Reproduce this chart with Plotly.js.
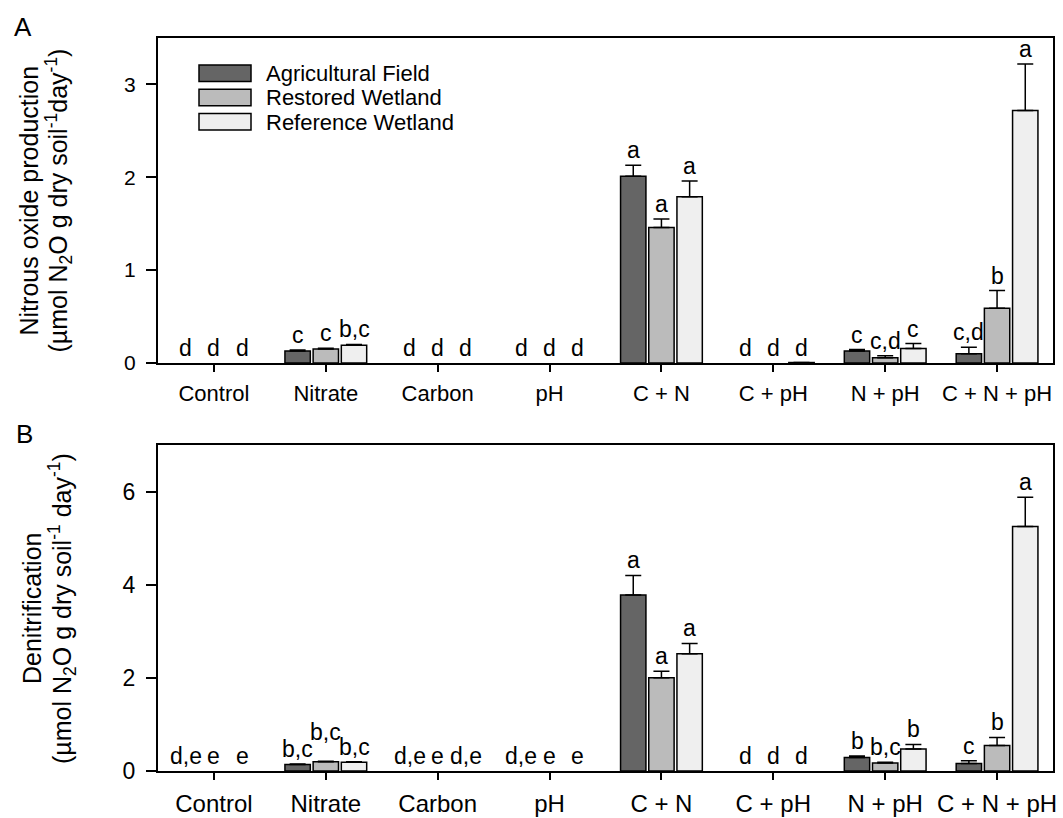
<!DOCTYPE html>
<html><head><meta charset="utf-8">
<script src="https://cdn.plot.ly/plotly-3.0.1.min.js"></script>
<style>html,body{margin:0;padding:0;background:#fff}</style>
</head><body><div id="chart" style="width:1063px;height:818px"></div>
<script>
// ---------- DATA ----------
const categories = ['Control', 'Nitrate', 'Carbon', 'pH', 'C + N', 'C + pH', 'N + pH', 'C + N + pH'];
const seriesNames = ['Agricultural Field', 'Restored Wetland', 'Reference Wetland'];

// Panel A: nitrous oxide production
const n2oAgri    = [0, 0.13, 0, 0, 2.01, 0, 0.13, 0.10];
const n2oAgriErr = [0, 0.01, 0, 0, 0.12, 0, 0.015, 0.07];
const n2oRest    = [0, 0.15, 0, 0, 1.46, 0, 0.057, 0.59];
const n2oRestErr = [0, 0.01, 0, 0, 0.09, 0, 0.02, 0.19];
const n2oRef     = [0, 0.19, 0, 0, 1.79, 0.005, 0.155, 2.72];
const n2oRefErr  = [0, 0.01, 0, 0, 0.17, 0, 0.055, 0.50];
const n2oAgriLetters = ['d', 'c', 'd', 'd', 'a', 'd', 'c', 'c,d'];
const n2oRestLetters = ['d', 'c', 'd', 'd', 'a', 'd', 'c,d', 'b'];
const n2oRefLetters  = ['d', 'b,c', 'd', 'd', 'a', 'd', 'c', 'a'];

// Panel B: denitrification
const denAgri    = [0, 0.14, 0, 0, 3.78, 0, 0.29, 0.16];
const denAgriErr = [0, 0.01, 0, 0, 0.42, 0, 0.03, 0.06];
const denRest    = [0, 0.20, 0, 0, 2.00, 0, 0.17, 0.55];
const denRestErr = [0, 0.01, 0, 0, 0.14, 0, 0.02, 0.17];
const denRef     = [0, 0.19, 0, 0, 2.52, 0, 0.47, 5.25];
const denRefErr  = [0, 0.01, 0, 0, 0.22, 0, 0.10, 0.63];
const denAgriLetters = ['d,e', 'b,c', 'd,e', 'd,e', 'a', 'd', 'b', 'c'];
const denRestLetters = ['e', 'b,c', 'e', 'e', 'a', 'd', 'b,c', 'b'];
const denRefLetters  = ['e', 'b,c', 'd,e', 'e', 'a', 'd', 'b', 'a'];

// ---------- STYLE / LAYOUT ----------
const W = 1063, H = 818;
const FONT = 'Liberation Sans, Arial, sans-serif';
const colors = ['#656565', '#bbbbbb', '#efefef'];
const BARGAP = 0.244, BARGROUPGAP = 0.1;
const px = x => x / W;           // pixel -> paper x
const py = y => 1 - y / H;       // pixel -> paper y

const panels = [
  {xa: 'x', ya: 'y', vals: [n2oAgri, n2oRest, n2oRef], errs: [n2oAgriErr, n2oRestErr, n2oRefErr],
   letters: [n2oAgriLetters, n2oRestLetters, n2oRefLetters], letterSize: 23},
  {xa: 'x2', ya: 'y2', vals: [denAgri, denRest, denRef], errs: [denAgriErr, denRestErr, denRefErr],
   letters: [denAgriLetters, denRestLetters, denRefLetters], letterSize: 23}
];

const traces = [];
const annotations = [];
const slot = (1 - BARGAP) / 3;
panels.forEach((p, pi) => {
  p.vals.forEach((v, si) => {
    // zero values: no bar is drawn in the original figure
    const shown = v.map(d => d === 0 ? null : d);
    traces.push({
      type: 'bar', x: categories, y: shown, name: seriesNames[si],
      xaxis: p.xa, yaxis: p.ya, showlegend: false,
      marker: {color: colors[si], line: {color: '#000', width: 1.5}},
      error_y: {type: 'data', array: p.errs[si], arrayminus: v.map(() => 0), symmetric: false,
                color: '#000', thickness: 1.5, width: 8},
      hoverinfo: 'skip'
    });
    p.letters[si].forEach((t, ci) => {
      // nudge up the crowded middle letter in panel B nitrate group
      const extra = (pi === 1 && ci === 1 && si === 1) ? 14 : 0;
      annotations.push({
        xref: p.xa, yref: p.ya, x: ci + (si - 1) * slot, y: v[ci] + p.errs[si][ci],
        text: t, showarrow: false, xanchor: 'center', yanchor: 'bottom', yshift: extra,
        font: {family: FONT, size: p.letterSize, color: '#000'}
      });
    });
  });
});

// axis titles
annotations.push(
  {xref: 'paper', yref: 'paper', x: px(29), y: py(200.5), textangle: -90, showarrow: false,
   xanchor: 'center', yanchor: 'middle', text: 'Nitrous oxide production',
   font: {family: FONT, size: 25, color: '#000'}},
  {xref: 'paper', yref: 'paper', x: px(59), y: py(200.5), textangle: -90, showarrow: false,
   xanchor: 'center', yanchor: 'middle', text: '(µmol N<sub>2</sub>O g dry soil<sup>-1</sup>day<sup>-1</sup>)',
   font: {family: FONT, size: 25, color: '#000'}},
  {xref: 'paper', yref: 'paper', x: px(32), y: py(609), textangle: -90, showarrow: false,
   xanchor: 'center', yanchor: 'middle', text: 'Denitrification',
   font: {family: FONT, size: 25, color: '#000'}},
  {xref: 'paper', yref: 'paper', x: px(62), y: py(609), textangle: -90, showarrow: false,
   xanchor: 'center', yanchor: 'middle', text: '(µmol N<sub>2</sub>O g dry soil<sup>-1</sup> day<sup>-1</sup>)',
   font: {family: FONT, size: 25, color: '#000'}},
  {xref: 'paper', yref: 'paper', x: px(23), y: py(27.5), showarrow: false, xanchor: 'center', yanchor: 'middle',
   text: 'A', font: {family: FONT, size: 26, color: '#000'}},
  {xref: 'paper', yref: 'paper', x: px(24), y: py(433.5), showarrow: false, xanchor: 'center', yanchor: 'middle',
   text: 'B', font: {family: FONT, size: 26, color: '#000'}}
);

// custom legend
const shapes = [];
seriesNames.forEach((n, i) => {
  const top = 65 + i * 24.3;
  shapes.push({type: 'rect', xref: 'paper', yref: 'paper', x0: px(199), x1: px(251), y0: py(top), y1: py(top + 16.5),
               fillcolor: colors[i], line: {color: '#000', width: 1.5}});
  annotations.push({xref: 'paper', yref: 'paper', x: px(264), y: py(top + 8.5), showarrow: false,
                    xanchor: 'left', yanchor: 'middle', text: n, font: {family: FONT, size: 22, color: '#000'}});
});

const xBase = {
  type: 'category', range: [-0.5, 7.5], domain: [px(158), px(1053)],
  showline: true, linewidth: 2, linecolor: '#000', mirror: true,
  ticks: 'outside', ticklen: 7, tickwidth: 2, tickcolor: '#000',
  showgrid: false, zeroline: false, fixedrange: true
};
const yBase = {
  showline: true, linewidth: 2, linecolor: '#000', mirror: true,
  ticks: 'outside', ticklen: 10, tickwidth: 2, tickcolor: '#000',
  showgrid: false, zeroline: false, tick0: 0, fixedrange: true
};

const layout = {
  width: W, height: H, margin: {l: 0, r: 0, t: 0, b: 0},
  paper_bgcolor: '#fff', plot_bgcolor: '#fff',
  font: {family: FONT, color: '#000'},
  barmode: 'group', bargap: BARGAP, bargroupgap: BARGROUPGAP,
  showlegend: false,
  xaxis: Object.assign({}, xBase, {anchor: 'y', tickfont: {size: 22}, ticklabelstandoff: 3}),
  yaxis: Object.assign({}, yBase, {anchor: 'x', domain: [py(363), py(38)], range: [0, 3.5], dtick: 1,
                                   tickfont: {size: 21}, ticklabelstandoff: 6}),
  xaxis2: Object.assign({}, xBase, {anchor: 'y2', tickfont: {size: 24}, ticklabelstandoff: 3}),
  yaxis2: Object.assign({}, yBase, {anchor: 'x2', domain: [py(771), py(445)], range: [0, 7], dtick: 2,
                                    tickfont: {size: 23}, ticklabelstandoff: 6}),
  annotations: annotations,
  shapes: shapes
};

Plotly.newPlot('chart', traces, layout, {displayModeBar: false, staticPlot: true});
</script>
</body></html>
